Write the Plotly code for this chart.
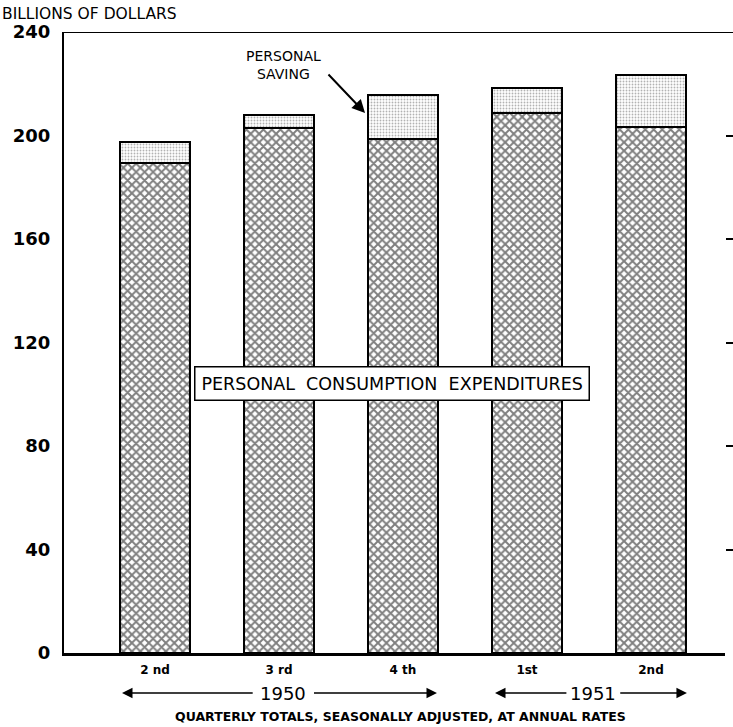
import plotly.graph_objects as go

# ---- data (billions of dollars, quarterly totals, seasonally adjusted at annual rates)
quarters = ["2 nd", "3 rd", "4 th", "1st", "2nd"]
consumption = [189.4, 203.0, 198.6, 208.7, 203.3]
saving = [8.1, 4.9, 17.1, 9.7, 20.1]
y_ticks = [0, 40, 80, 120, 160, 200, 240]
right_ticks = [40, 80, 120, 160, 200]
years = ["1950", "1951"]

xpos = list(range(len(quarters)))
FONT = "DejaVu Sans"

fig = go.Figure()
fig.add_trace(go.Bar(
    x=xpos, y=consumption, name="Personal consumption expenditures",
    width=0.565,
    marker=dict(color="white",
                line=dict(color="black", width=2.5),
                pattern=dict(shape="x", size=6, solidity=0.55,
                             fgcolor="black", bgcolor="white")),
    showlegend=False,
))
fig.add_trace(go.Bar(
    x=xpos, y=saving, name="Personal saving",
    width=0.565,
    marker=dict(color="white",
                line=dict(color="black", width=2.5),
                pattern=dict(shape=".", size=3, solidity=0.3,
                             fgcolor="#666666", bgcolor="white")),
    showlegend=False,
))
# invisible trace to carry the right-hand tick marks
fig.add_trace(go.Scatter(x=[xpos[0]], y=[0], yaxis="y2", mode="markers",
                         marker=dict(opacity=0), showlegend=False, hoverinfo="skip"))

fig.update_layout(
    width=733, height=727,
    margin=dict(l=64, r=8, t=32, b=74, autoexpand=False),
    paper_bgcolor="white", plot_bgcolor="white",
    barmode="stack", bargap=0,
    font=dict(family=FONT, color="black"),
    xaxis=dict(range=[-0.734, 4.597], tickvals=xpos, ticktext=quarters,
               showgrid=False, zeroline=False, ticks="", automargin=False,
               showline=True, linecolor="black", linewidth=3,
               tickfont=dict(size=12, family=FONT, weight="bold"),
               ticklabelstandoff=4),
    yaxis=dict(range=[0, 240], tickvals=y_ticks, ticktext=[str(v) for v in y_ticks],
               showgrid=False, zeroline=False, ticks="", automargin=False,
               showline=True, linecolor="black", linewidth=2,
               tickfont=dict(size=18, family=FONT, weight="bold"),
               ticklabelstandoff=8),
    yaxis2=dict(range=[0, 240], overlaying="y", side="right", automargin=False,
                tickvals=right_ticks, showticklabels=False,
                ticks="outside", ticklen=9, tickwidth=2, tickcolor="black",
                showgrid=False, zeroline=False, showline=False),
)

# top frame line (extends past the right edge like the cropped original)
fig.add_shape(type="line", xref="paper", yref="y", x0=0, x1=1.02, y0=240, y1=240,
              line=dict(color="black", width=2))

anns = []
# axis title
anns.append(dict(text="BILLIONS OF DOLLARS", xref="paper", yref="paper",
                 x=-64/661, y=1 + 18/621, xanchor="left", yanchor="middle",
                 showarrow=False, font=dict(size=15.5, family=FONT)))
# series label inside the bars
anns.append(dict(text="PERSONAL  CONSUMPTION  EXPENDITURES", xref="x", yref="y",
                 x=1.91, y=104.3, showarrow=False,
                 font=dict(size=17.5, family=FONT),
                 bgcolor="white", bordercolor="black", borderwidth=1.5, borderpad=6))
# personal saving label and arrow
anns.append(dict(text="PERSONAL<br>SAVING", xref="x", yref="y",
                 x=(283-155)/124, y=(653-65)/2.5875, showarrow=False, align="center",
                 font=dict(size=14, family=FONT)))
anns.append(dict(text="", xref="x", yref="y", x=1.694, y=208.7,
                 ax=-38, ay=-40, showarrow=True, arrowhead=2, arrowsize=1.3,
                 arrowwidth=2, arrowcolor="black"))

# year rows with arrows
year_y = -40/621
def year_block(label, xc, left_head, left_tail, right_tail, right_head):
    anns.append(dict(text=label, xref="x", yref="paper", x=xc, y=year_y,
                     yanchor="middle", showarrow=False,
                     font=dict(size=18, family=FONT)))
    for head, tail in ((left_head, left_tail), (right_head, right_tail)):
        anns.append(dict(text="", xref="x", yref="paper", x=head, y=year_y,
                         axref="x", ax=tail, ayref="pixel", ay=0,
                         showarrow=True, arrowhead=2, arrowsize=1.4,
                         arrowwidth=1.5, arrowcolor="black"))

year_block(years[0], 1.032, -0.266, 0.8, 1.27, 2.274)
year_block(years[1], 3.532, 2.742, 3.33, 3.74, 4.29)

anns.append(dict(text="QUARTERLY TOTALS, SEASONALLY ADJUSTED, AT ANNUAL RATES",
                 xref="x", yref="paper", x=(401-155)/124, y=-63/621,
                 yanchor="middle", showarrow=False,
                 font=dict(size=12.5, family=FONT, weight="bold")))

fig.update_layout(annotations=anns)
fig.write_html("out.html", config={"displayModeBar": False},
               post_script="document.body.style.margin='0px';document.body.style.overflow='hidden';")
